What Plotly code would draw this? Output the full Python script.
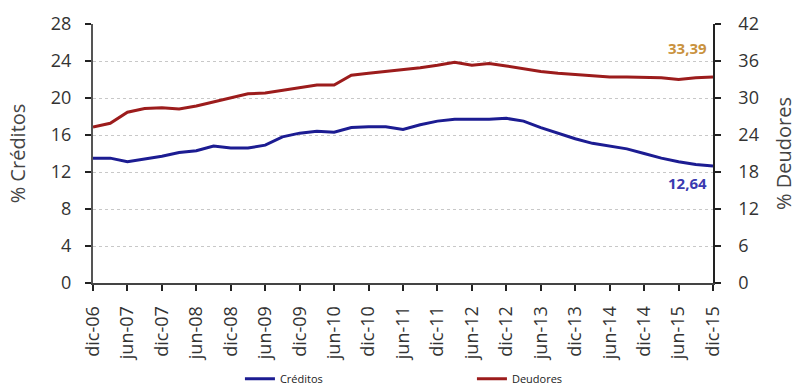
import plotly.graph_objects as go

# Quarterly series, Dec-2006 to Dec-2015
quarters = [
    "dic-06", "mar-07", "jun-07", "sep-07", "dic-07", "mar-08", "jun-08", "sep-08",
    "dic-08", "mar-09", "jun-09", "sep-09", "dic-09", "mar-10", "jun-10", "sep-10",
    "dic-10", "mar-11", "jun-11", "sep-11", "dic-11", "mar-12", "jun-12", "sep-12",
    "dic-12", "mar-13", "jun-13", "sep-13", "dic-13", "mar-14", "jun-14", "sep-14",
    "dic-14", "mar-15", "jun-15", "sep-15", "dic-15",
]

creditos = [
    13.5, 13.5, 13.1, 13.4, 13.7, 14.1, 14.3, 14.8,
    14.6, 14.6, 14.9, 15.8, 16.2, 16.4, 16.3, 16.8,
    16.9, 16.9, 16.6, 17.1, 17.5, 17.7, 17.7, 17.7,
    17.8, 17.5, 16.8, 16.2, 15.6, 15.1, 14.8, 14.5,
    14.0, 13.5, 13.1, 12.8, 12.64,
]

deudores = [
    25.3, 25.9, 27.7, 28.3, 28.4, 28.2, 28.7, 29.4,
    30.0, 30.7, 30.8, 31.2, 31.7, 32.1, 32.1, 33.7,
    34.0, 34.3, 34.5, 34.9, 35.3, 35.8, 35.3, 35.6,
    35.2, 34.7, 34.3, 34.0, 33.8, 33.5, 33.4, 33.4,
    33.3, 33.3, 33.0, 33.3, 33.39,
]

# Axis labels every half-year
tick_labels = quarters[::2]
left_ticks = [0, 4, 8, 12, 16, 20, 24, 28]
right_ticks = [0, 6, 12, 18, 24, 30, 36, 42]

BLUE = "#1c1c92"
RED = "#9c1c1c"
FONT = "Open Sans"
TICK_COLOR = "#333333"

fig = go.Figure()
fig.add_trace(go.Scatter(
    x=quarters, y=creditos, name="Créditos", mode="lines",
    line=dict(color=BLUE, width=3), yaxis="y",
))
fig.add_trace(go.Scatter(
    x=quarters, y=deudores, name="Deudores", mode="lines",
    line=dict(color=RED, width=3), yaxis="y2",
))

fig.add_annotation(
    x=quarters[-1], y=deudores[-1], yref="y2",
    text="<b>" + f"{deudores[-1]:.2f}".replace(".", ",") + "</b>",
    showarrow=False, xanchor="right", yanchor="middle",
    xshift=-4, yshift=29,
    font=dict(family=FONT, size=15, color="#c9923e"),
)
fig.add_annotation(
    x=quarters[-1], y=creditos[-1], yref="y",
    text="<b>" + f"{creditos[-1]:.2f}".replace(".", ",") + "</b>",
    showarrow=False, xanchor="right", yanchor="middle",
    xshift=-4, yshift=-17,
    font=dict(family=FONT, size=15, color="#3a3ab0"),
)

fig.update_layout(
    width=797, height=388,
    margin=dict(l=93, r=84, t=24, b=105, autoexpand=False),
    paper_bgcolor="white", plot_bgcolor="white",
    font=dict(family=FONT, color=TICK_COLOR),
    showlegend=True,
    legend=dict(
        orientation="h", x=0.237, xanchor="left", y=-0.37, yanchor="middle",
        font=dict(family=FONT, size=11, color="#222222"),
        entrywidth=187, entrywidthmode="pixels",
        itemwidth=30, tracegroupgap=0,
    ),
    xaxis=dict(
        type="category", range=[0, len(quarters) - 1],
        tickmode="array", tickvals=tick_labels, ticktext=tick_labels,
        tickangle=-90, ticks="outside", ticklen=6, tickwidth=2, tickcolor="#222222",
        showline=True, linecolor="#444444", linewidth=2,
        showgrid=False, zeroline=False,
        ticklabelstandoff=8,
        tickfont=dict(family=FONT, size=18, color=TICK_COLOR),
    ),
    yaxis=dict(
        range=[0, 28], tickvals=left_ticks,
        ticks="outside", ticklen=6, tickwidth=2, tickcolor="#222222",
        showline=True, linecolor="#555555", linewidth=2,
        showgrid=True, gridcolor="#c8c8c8", griddash="dot", gridwidth=1,
        zeroline=False,
        ticklabelstandoff=10,
        tickfont=dict(family=FONT, size=18, color=TICK_COLOR),
        title=dict(text="% Créditos", font=dict(family=FONT, size=20, color="#444444"), standoff=20),
    ),
    yaxis2=dict(
        range=[0, 42], tickvals=right_ticks, overlaying="y", side="right",
        ticks="outside", ticklen=6, tickwidth=2, tickcolor="#222222",
        showline=True, linecolor="#222222", linewidth=1.5,
        showgrid=False, zeroline=False,
        ticklabelstandoff=14,
        tickfont=dict(family=FONT, size=18, color=TICK_COLOR),
        title=dict(text="% Deudores", font=dict(family=FONT, size=20, color="#444444"), standoff=22),
    ),
)

fig.write_html("out.html")
